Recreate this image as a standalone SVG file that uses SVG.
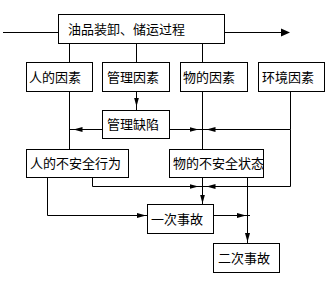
<svg xmlns="http://www.w3.org/2000/svg" width="330" height="281" viewBox="0 0 330 281">
<defs>
<style>
.box{fill:#fff;stroke:#000;stroke-width:1}
.ln{fill:none;stroke:#000;stroke-width:1}
.t{font-family:"Noto Sans CJK SC","Noto Sans",sans-serif;font-size:13px;fill:#000}
</style>
<marker id="ah" markerUnits="userSpaceOnUse" markerWidth="14" markerHeight="6" refX="13" refY="2.5" orient="auto">
<path d="M0,0 L9,2.5 L0,5 z" fill="#000"/>
</marker>
</defs>
<rect width="330" height="281" fill="#fff"/>
<g id="connectors">
<line class="ln" x1="3" y1="32.5" x2="58.5" y2="32.5"/>
<line class="ln" x1="224.5" y1="32.5" x2="282" y2="32.5"/>
<polygon points="281,28.5 290,32.5 281,36.5" fill="#000"/>
<line class="ln" x1="69.5" y1="43.5" x2="69.5" y2="62.5"/>
<line class="ln" x1="136.5" y1="43.5" x2="136.5" y2="62.5"/>
<line class="ln" x1="202.5" y1="43.5" x2="202.5" y2="62.5"/>
<line class="ln" x1="69.5" y1="91.5" x2="69.5" y2="149.5"/>
<line class="ln" x1="202.5" y1="91.5" x2="202.5" y2="149.5"/>
<line class="ln" x1="136.5" y1="91.5" x2="136.5" y2="110.5" marker-end="url(#ah)"/>
<line class="ln" x1="102.5" y1="129.5" x2="69.5" y2="129.5" marker-end="url(#ah)"/>
<line class="ln" x1="169.5" y1="129.5" x2="202.5" y2="129.5" marker-end="url(#ah)"/>
<polyline class="ln" points="290.5,91.5 290.5,129.5 202.5,129.5" marker-end="url(#ah)"/>
<polyline class="ln" points="290.5,129.5 290.5,186.5 202.5,186.5" marker-end="url(#ah)"/>
<polyline class="ln" points="92.5,177.5 92.5,186.5 202.5,186.5" marker-end="url(#ah)"/>
<line class="ln" x1="202.5" y1="177.5" x2="202.5" y2="207.5" marker-end="url(#ah)"/>
<polyline class="ln" points="47.5,177.5 47.5,215.5 150,215.5" marker-end="url(#ah)"/>
<line class="ln" x1="213.5" y1="215.5" x2="250" y2="215.5" marker-end="url(#ah)"/>
<line class="ln" x1="247.5" y1="177.5" x2="247.5" y2="246" marker-end="url(#ah)"/>
</g>
<g id="n_process"><rect class="box" x="58.5" y="14.5" width="166" height="29"/><text class="t" x="68" y="33.5">油品装卸、储运过程</text></g>
<g id="n_human"><rect class="box" x="26.5" y="62.5" width="66" height="29"/><text class="t" x="29" y="81.5">人的因素</text></g>
<g id="n_mgmt"><rect class="box" x="102.5" y="62.5" width="67" height="29"/><text class="t" x="107" y="81.5">管理因素</text></g>
<g id="n_thing"><rect class="box" x="180.5" y="62.5" width="67" height="29"/><text class="t" x="183" y="81.5">物的因素</text></g>
<g id="n_env"><rect class="box" x="258.5" y="62.5" width="66" height="29"/><text class="t" x="262" y="81.5">环境因素</text></g>
<g id="n_defect"><rect class="box" x="102.5" y="110.5" width="67" height="28"/><text class="t" x="107" y="129">管理缺陷</text></g>
<g id="n_unsafe_act"><rect class="box" x="26.5" y="149.5" width="102" height="28"/><text class="t" x="30" y="168">人的不安全行为</text></g>
<g id="n_unsafe_state"><rect class="box" x="169.5" y="149.5" width="94" height="28"/><text class="t" x="173" y="168">物的不安全状态</text></g>
<g id="n_acc1"><rect class="box" x="147.5" y="204.5" width="66" height="29"/><text class="t" x="151" y="223.5">一次事故</text></g>
<g id="n_acc2"><rect class="box" x="213.5" y="243.5" width="66" height="29"/><text class="t" x="218" y="262.5">二次事故</text></g>
</svg>
